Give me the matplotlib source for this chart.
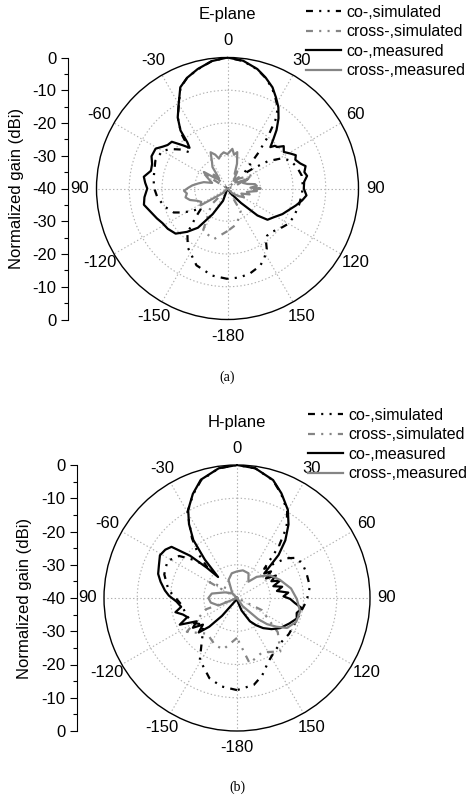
import numpy as np
import matplotlib
matplotlib.use('Agg')
import matplotlib.pyplot as plt

plt.rcParams['font.family'] = ['Liberation Sans', 'DejaVu Sans']
plt.rcParams['lines.scale_dashes'] = False

# angle ticks and labels of both polar plots
angle_ticks = [0, 30, 60, 90, 120, 150, 180, 210, 240, 270, 300, 330]
angle_labels = ['0', '30', '60', '90', '120', '150', '-180', '-150', '-120', '90', '-60', '-30']
gain_ticks = ['0', '-10', '-20', '-30', '-40', '-30', '-20', '-10', '0']
series_names = ['co-,simulated', 'cross-,simulated', 'co-,measured', 'cross-,measured']

# ---- E-plane ----
e_co_sim_ang = [-180, -170, -158, -146, -138, -132, -127, -122, -118, -114, -106, -97, -89, -81, -69, -60,
                -55, -50, -46, -43, -40, -35, -30, -25, -20, -14, -7, 0, 7, 14, 19, 24, 28, 32, 35, 38, 41,
                44, 48, 52, 56, 61, 66, 73, 80, 87, 94, 103, 113, 120, 127, 134, 140, 144, 147, 152, 157,
                165, 172, 180]
e_co_sim = [-12.4, -13, -14.7, -18.3, -21.7, -27, -30, -27, -24.4, -22, -20, -18.4, -17.5, -17.2, -16.4, -17,
            -19, -21.5, -24.2, -22, -18, -13.5, -10.3, -6, -4, -2.5, -0.8, 0, -0.8, -2.5, -4.3, -6.5, -8.8,
            -11, -14.5, -20, -26, -31, -33.5, -30, -25, -21, -19, -17.8, -17, -17, -17.2, -17.6, -18, -18.5,
            -19.8, -21, -21.2, -20, -18, -16, -14.4, -13.2, -12.6, -12.4]

e_x_sim_ang = [-180, -165, -150, -135, -120, -75, -58, -45, -30, 30, 45, 62, 75, 90, 135, 150, 165, 180]
e_x_sim = [-27, -24, -25, -33, -40, -40, -31.5, -36, -40, -40, -36, -31, -38, -40, -40, -32, -28.8, -27]

e_co_meas_ang = [-180, -160, -150, -143, -137, -131, -124, -118, -113, -107, -101, -96, -90, -86, -82, -77,
                 -72, -67, -61, -57, -54, -50, -46, -43, -41, -39, -35, -30, -25, -20, -14, -7, 0, 7, 14, 19,
                 24, 28, 32, 36, 40, 43, 46, 48, 50, 53, 57, 61, 64, 67, 71, 74, 78, 81, 85, 90, 95, 99, 104,
                 108, 115, 122, 128, 132, 137, 145, 160, 180]
e_co_meas = [-40, -36, -31, -25, -21.9, -19, -18, -17.5, -16.6, -15.5, -14, -14.5, -15.5, -14.8, -14.2, -16,
             -15.8, -14.8, -14.9, -16.5, -17.4, -17.8, -21, -23, -21.3, -17.2, -13.5, -10.2, -5.9, -4, -2.4,
             -0.8, 0, -0.7, -2.4, -4.2, -6.2, -8.5, -10.7, -13.5, -16.7, -19.5, -21.8, -20.5, -20.3, -18.5,
             -19.5, -18, -16.8, -17.5, -16.5, -15.2, -16, -15.4, -16.5, -16.7, -15.8, -16.9, -18.5, -19.8,
             -21.5, -23.4, -24.5, -27.7, -34, -38, -40, -40]

e_x_meas_ang = [-180, -135, -122, -117, -112, -107, -102, -97, -93, -89, -85, -80, -75, -70, -65, -60, -55,
                -50, -45, -40, -35, -30, -25, -20, -16, -11, -6, 0, 7, 11, 15, 21, 26, 30, 38, 45, 52, 60, 65,
                70, 77, 81, 85, 88, 90, 93, 95, 100, 105, 110, 118, 125, 135, 180]
e_x_meas = [-40, -38, -30.3, -31, -30, -28, -26.9, -27.5, -26.7, -28, -29.2, -31, -32.5, -35, -34, -32.5,
            -31.2, -35, -34, -36, -32, -30.5, -27.8, -29, -30.5, -29.5, -28.9, -29.5, -27.8, -29.5, -28.5,
            -31.9, -35, -34, -37, -35.1, -37, -36, -33, -35, -33.8, -31.5, -31, -33, -29.9, -32, -31, -34,
            -33, -35.5, -34.3, -36, -38, -40]

# ---- H-plane ----
h_co_sim_ang = [-180, -170, -161, -149, -142, -135, -128, -120, -110, -97, -83, -72, -62, -54, -48, -44, -41,
                -37, -30, -23, -17, -8, 0, 8, 17, 23, 30, 35, 39, 43, 47, 51, 56, 63, 70, 81, 92, 104, 115,
                125, 134, 144, 154, 162, 169, 180]
h_co_sim = [-12.3, -13, -14.5, -18.3, -22.7, -25.5, -27, -25, -24, -23.2, -19.2, -17, -16.3, -18.5, -23, -27,
            -22, -17.5, -10.2, -6.2, -3, -0.6, 0, -0.6, -3, -6, -9.8, -14, -20, -28, -25, -21, -18.4, -17.8,
            -17.8, -17.8, -19, -20.5, -21, -21, -21.2, -20.5, -18.6, -15.5, -13.4, -12.3]

h_x_sim_ang = [-180, -165, -155, -140, -124, -110, -90, -75, -60, -45, -30, 30, 60, 90, 116, 130, 141, 155,
               169, 180]
h_x_sim = [-28, -24, -24.4, -26, -21.8, -30, -40, -40, -30.5, -36, -40, -40, -40, -40, -31.7, -24, -19.3, -22,
           -20, -28]

h_co_meas_ang = [-180, -150, -140, -136, -132, -128, -124, -120, -115, -111, -107, -103, -99, -93.5, -88, -84,
                 -78, -73, -67, -61, -56, -52, -48, -45, -42, -40, -37, -33, -29, -23, -17, -8, 0, 8, 17, 23,
                 30, 35, 40, 44, 46, 48, 52, 56, 60, 64, 68, 72, 76, 80, 84, 88, 91, 95, 99, 104, 109, 116,
                 125, 132, 139, 145, 151, 160, 170, 180]
h_co_meas = [-40, -39, -33, -28, -24.5, -27, -24, -26, -21, -24, -23, -21, -23, -21.8, -19.5, -18.2, -16.5,
             -15.2, -14.5, -13.5, -14, -15, -21, -27, -31.5, -25, -18.2, -13.5, -9.7, -6, -2.8, -0.6, 0,
             -0.6, -2.9, -5.8, -9.4, -13, -17.4, -22, -26.3, -29, -27, -29.5, -26.5, -28.5, -26, -28.5, -26,
             -27.8, -24.5, -26, -24, -22.5, -20.2, -21.5, -21, -22.5, -24.2, -26, -28, -30, -32, -36, -39, -40]

h_x_meas_ang = [-180, -130, -112, -100, -90, -80, -65, -45, -25, -12, 0, 12, 25, 35, 43, 55, 67, 80, 91, 102,
                112, 121, 126, 131, 135, 145, 160, 180]
h_x_meas = [-40, -40, -34, -32, -31.4, -32.3, -36, -38, -34, -32.4, -32, -31.5, -31.8, -34, -31.3, -28, -26,
            -23.5, -22, -20.6, -20.8, -22.5, -25.3, -28, -31, -37, -40, -40]

panels = [
    dict(title='E-plane', caption='(a)', cx=227.5, cy=188.5, R=131, axis_x=68, ylab_x=17,
         legend_xy=(306, 5),
         series=[(e_co_sim_ang, e_co_sim), (e_x_sim_ang, e_x_sim),
                 (e_co_meas_ang, e_co_meas), (e_x_meas_ang, e_x_meas)],
         title_y=14, cap_y=377),
    dict(title='H-plane', caption='(b)', cx=237, cy=598, R=133, axis_x=77, ylab_x=25,
         legend_xy=(308, 408),
         series=[(h_co_sim_ang, h_co_sim), (h_x_sim_ang, h_x_sim),
                 (h_co_meas_ang, h_co_meas), (h_x_meas_ang, h_x_meas)],
         title_y=423, cap_y=787),
]

W, H = 468, 799
gray = '#858585'
dash_dot_dot = (5, 4.5, 1.5, 4.5, 1.5, 4.5)
styles = [
    dict(color='black', dashes=dash_dot_dot),
    dict(color=gray, dashes=dash_dot_dot),
    dict(color='black', linestyle='-'),
    dict(color=gray, linestyle='-'),
]

fig = plt.figure(figsize=(W / 100, H / 100), dpi=100)

for p in panels:
    cx, cy, R = p['cx'], p['cy'], p['R']
    ax = fig.add_axes([(cx - R) / W, 1 - (cy + R) / H, 2 * R / W, 2 * R / H], projection='polar')
    ax.set_theta_zero_location('N')
    ax.set_theta_direction(-1)
    ax.set_rlim(-40, 0)
    ax.set_yticks([-30, -20, -10])
    ax.set_yticklabels([])
    ax.set_xticks(np.deg2rad(angle_ticks))
    ax.set_xticklabels(angle_labels, fontsize=12)
    ax.set_xticks(np.deg2rad(np.arange(15, 360, 30)), minor=True)
    ax.tick_params(axis='x', which='major', direction='in', length=5, width=0.8, pad=5)
    ax.tick_params(axis='x', which='minor', direction='in', length=4, width=0.8)
    ax.grid(True, linestyle=':', color='#b0b0b0', linewidth=0.8)
    ax.spines['polar'].set_linewidth(1.0)

    handles = []
    for (ang, val), st in zip(p['series'], styles):
        ln, = ax.plot(np.deg2rad(ang), val, linewidth=1.6, **st)
        handles.append(ln)

    lx, ly = p['legend_xy']
    fig.legend(handles, series_names, loc='upper left', bbox_to_anchor=(lx / W, 1 - ly / H),
               frameon=False, fontsize=11.5, handlelength=2.2, handletextpad=0.35,
               labelspacing=0.28, borderpad=0, borderaxespad=0)

    # left gain axis
    yax = fig.add_axes([p['axis_x'] / W, 1 - (cy + R) / H, 0.001, 2 * R / H])
    yax.set_ylim(8, 0)
    yax.set_yticks(range(9))
    yax.set_yticklabels(gain_ticks, fontsize=12)
    yax.set_yticks(np.arange(0.5, 8, 1), minor=True)
    yax.tick_params(axis='y', which='major', length=5, width=0.8)
    yax.tick_params(axis='y', which='minor', length=3, width=0.8)
    yax.set_xticks([])
    for s in ['top', 'right', 'bottom']:
        yax.spines[s].set_visible(False)
    yax.spines['left'].set_linewidth(0.8)
    yax.patch.set_visible(False)

    fig.text(p['ylab_x'] / W, 1 - cy / H, 'Normalized gain (dBi)', rotation=90,
             ha='center', va='center', fontsize=12)
    fig.text(cx / W, 1 - p['title_y'] / H, p['title'], ha='center', va='center', fontsize=12)
    fig.text(cx / W, 1 - p['cap_y'] / H, p['caption'], ha='center', va='center', fontsize=10,
             family='Liberation Serif')

fig.savefig('out.png', dpi=100)
